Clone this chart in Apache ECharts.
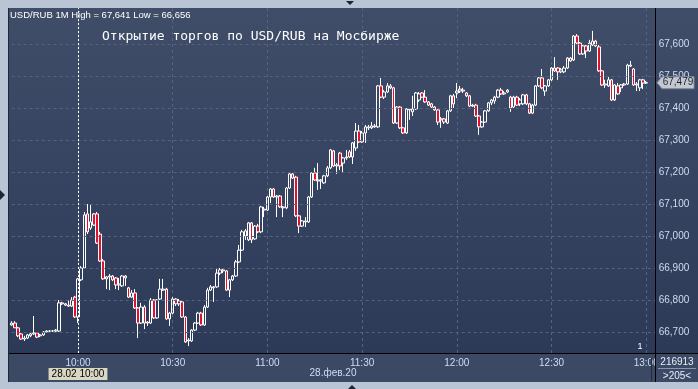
<!DOCTYPE html>
<html><head><meta charset="utf-8">
<script src="https://cdn.jsdelivr.net/npm/echarts@6/dist/echarts.min.js"></script>
<style>html,body{margin:0;padding:0;background:#b9c5d5}#c{width:698px;height:389px}</style>
</head><body><div id="c"></div>
<script>
const opens = [
66.722,66.728,66.713,66.694,66.678,66.681,66.688,66.694,66.697,66.688,
66.691,66.700,66.703,66.703,66.703,66.703,66.791,66.788,66.784,66.781,
66.809,66.747,66.863,66.900,67.069,67.025,67.069,67.069,67.006,66.922,
66.866,66.872,66.875,66.869,66.847,66.844,66.875,66.838,66.809,66.822,
66.775,66.728,66.778,66.728,66.728,66.800,66.744,66.803,66.834,66.834,
66.741,66.759,66.803,66.788,66.794,66.747,66.672,66.672,66.706,66.728,
66.759,66.722,66.778,66.831,66.838,66.841,66.884,66.894,66.891,66.831,
66.863,66.875,66.919,66.956,67.000,66.988,67.041,66.991,67.031,67.013,
67.084,67.081,67.122,67.147,67.122,67.125,67.091,67.088,67.150,67.194,
67.184,67.063,67.031,67.047,67.044,67.122,67.197,67.175,67.172,67.166,
67.188,67.213,67.266,67.219,67.259,67.228,67.244,67.263,67.247,67.275,
67.328,67.294,67.322,67.341,67.338,67.344,67.341,67.469,67.434,67.450,
67.469,67.463,67.353,67.403,67.338,67.322,67.397,67.388,67.397,67.425,
67.447,67.434,67.419,67.413,67.403,67.394,67.363,67.366,67.353,67.391,
67.438,67.447,67.459,67.453,67.447,67.438,67.406,67.409,67.375,67.341,
67.356,67.391,67.416,67.422,67.434,67.456,67.444,67.450,67.434,67.403,
67.434,67.413,67.413,67.441,67.413,67.384,67.409,67.469,67.494,67.453,
67.469,67.488,67.525,67.525,67.513,67.513,67.525,67.556,67.550,67.625,
67.603,67.569,67.594,67.578,67.597,67.609,67.591,67.516,67.472,67.469,
67.488,67.425,67.469,67.463,67.472,67.475,67.534,67.522,67.472,67.463,
67.488,67.478];
const closes = [
66.728,66.713,66.688,66.678,66.681,66.691,66.694,66.697,66.684,66.691,
66.700,66.703,66.703,66.703,66.706,66.791,66.788,66.784,66.781,66.800,
66.747,66.866,66.900,67.066,67.013,67.044,67.034,66.978,66.922,66.866,
66.872,66.875,66.863,66.847,66.850,66.875,66.869,66.809,66.822,66.775,
66.728,66.778,66.728,66.731,66.800,66.744,66.800,66.834,66.831,66.741,
66.759,66.803,66.788,66.797,66.747,66.669,66.675,66.706,66.728,66.759,
66.722,66.778,66.831,66.841,66.841,66.884,66.894,66.891,66.831,66.863,
66.875,66.919,66.956,67.013,67.016,67.041,66.988,67.031,67.013,67.091,
67.081,67.122,67.147,67.122,67.125,67.091,67.088,67.150,67.194,67.181,
67.063,67.031,67.047,67.044,67.122,67.197,67.175,67.172,67.175,67.188,
67.213,67.269,67.219,67.222,67.219,67.244,67.247,67.247,67.291,67.328,
67.294,67.322,67.341,67.338,67.344,67.341,67.469,67.434,67.450,67.469,
67.463,67.353,67.403,67.338,67.322,67.397,67.394,67.397,67.447,67.444,
67.434,67.419,67.409,67.403,67.394,67.356,67.366,67.356,67.391,67.438,
67.413,67.453,67.453,67.456,67.438,67.406,67.409,67.375,67.341,67.356,
67.391,67.416,67.425,67.434,67.456,67.444,67.447,67.456,67.400,67.434,
67.409,67.425,67.441,67.413,67.384,67.409,67.469,67.494,67.463,67.469,
67.488,67.525,67.516,67.513,67.519,67.525,67.556,67.547,67.625,67.603,
67.569,67.594,67.578,67.603,67.609,67.594,67.516,67.472,67.475,67.488,
67.425,67.472,67.444,67.472,67.475,67.534,67.531,67.472,67.475,67.488,
67.478,67.479];
const lows = [
66.719,66.713,66.684,66.675,66.672,66.678,66.684,66.691,66.681,66.684,
66.688,66.700,66.700,66.700,66.700,66.700,66.784,66.781,66.778,66.778,
66.744,66.728,66.859,66.897,67.006,67.019,67.031,66.975,66.919,66.863,
66.834,66.831,66.859,66.834,66.831,66.841,66.844,66.806,66.806,66.772,
66.681,66.725,66.709,66.719,66.725,66.741,66.741,66.800,66.828,66.738,
66.719,66.756,66.781,66.781,66.744,66.666,66.656,66.669,66.703,66.725,
66.719,66.719,66.775,66.828,66.794,66.838,66.878,66.884,66.828,66.809,
66.859,66.872,66.916,66.953,66.988,66.984,66.978,66.988,67.009,67.009,
67.059,67.078,67.103,67.119,67.059,67.088,67.059,67.084,67.147,67.178,
67.059,67.009,67.028,67.028,67.041,67.119,67.172,67.144,67.147,67.163,
67.184,67.209,67.216,67.194,67.206,67.200,67.238,67.244,67.225,67.266,
67.291,67.291,67.291,67.331,67.334,67.338,67.338,67.431,67.428,67.447,
67.459,67.350,67.350,67.334,67.319,67.319,67.363,67.375,67.394,67.419,
67.431,67.416,67.406,67.400,67.391,67.347,67.338,67.350,67.350,67.388,
67.400,67.431,67.447,67.447,67.434,67.403,67.403,67.372,67.316,67.338,
67.353,67.388,67.409,67.413,67.431,67.441,67.441,67.447,67.388,67.400,
67.406,67.406,67.409,67.409,67.381,67.381,67.406,67.466,67.459,67.438,
67.466,67.484,67.513,67.488,67.509,67.509,67.522,67.544,67.547,67.600,
67.566,67.566,67.556,67.575,67.594,67.591,67.513,67.469,67.463,67.466,
67.422,67.422,67.441,67.450,67.469,67.472,67.528,67.469,67.453,67.453,
67.459,67.475];
const highs = [
66.734,66.734,66.716,66.697,66.688,66.694,66.697,66.750,66.700,66.694,
66.703,66.706,66.706,66.706,66.709,66.800,66.794,66.791,66.800,66.809,
66.813,66.869,66.906,67.075,67.100,67.097,67.072,67.075,67.013,66.928,
66.875,66.881,66.878,66.872,66.869,66.878,66.878,66.841,66.831,66.834,
66.778,66.791,66.784,66.734,66.806,66.803,66.803,66.866,66.866,66.838,
66.763,66.809,66.806,66.803,66.797,66.750,66.681,66.709,66.731,66.763,
66.763,66.784,66.838,66.847,66.844,66.900,66.900,66.900,66.894,66.866,
66.878,66.925,66.972,67.019,67.022,67.044,67.044,67.034,67.038,67.094,
67.091,67.125,67.150,67.150,67.128,67.128,67.094,67.153,67.197,67.197,
67.188,67.066,67.050,67.059,67.125,67.200,67.213,67.228,67.178,67.191,
67.219,67.272,67.269,67.228,67.263,67.247,67.269,67.269,67.294,67.353,
67.347,67.328,67.347,67.347,67.356,67.350,67.472,67.494,67.456,67.478,
67.475,67.466,67.406,67.406,67.341,67.400,67.400,67.438,67.450,67.450,
67.450,67.456,67.422,67.416,67.406,67.397,67.372,67.369,67.394,67.441,
67.444,67.478,67.469,67.463,67.450,67.441,67.413,67.413,67.378,67.359,
67.394,67.419,67.428,67.438,67.459,67.463,67.453,67.459,67.438,67.438,
67.438,67.431,67.444,67.444,67.416,67.413,67.472,67.497,67.522,67.472,
67.491,67.528,67.559,67.528,67.525,67.531,67.559,67.559,67.628,67.631,
67.606,67.597,67.597,67.613,67.641,67.613,67.597,67.519,67.488,67.497,
67.491,67.475,67.478,67.475,67.478,67.538,67.547,67.525,67.481,67.491,
67.491,67.484];
const yTicks = [66.7, 66.8, 66.9, 67.0, 67.1, 67.2, 67.3, 67.4, 67.5, 67.6];
const startMinute = 9 * 60 + 39;   // first bar 09:39
const slotCount = 205;             // axis runs to 13:03
const crossTime = '10:00';
const lastPrice = 67.479;
const headerText = 'USD/RUB 1M High = 67,641 Low = 66,656';
const titleText = 'Открытие торгов по USD/RUB на Мосбирже';

const times = [];
for (let k = 0; k < slotCount; k++) {
  const m = startMinute + k;
  times.push(String(Math.floor(m / 60)).padStart(2, '0') + ':' + String(m % 60).padStart(2, '0'));
}
const candles = opens.map((o, i) => [o, closes[i], lows[i], highs[i]]);
const fmt = v => v.toFixed(3).replace('.', ',');
const isMajor = (idx, val) => /:(00|30)$/.test(val);

const chart = echarts.init(document.getElementById('c'), null, {renderer: 'canvas'});
const gridColor = '#56637e';
const labelColor = '#cfdcf1';
const FONT = 'Liberation Sans';

const option = {
  animation: false,
  backgroundColor: '#b9c5d5',
  grid: {left: 11.7, right: 42.3, top: 8, bottom: 36},
  xAxis: {
    type: 'category', data: times, boundaryGap: false,
    axisLine: {show: false}, axisTick: {show: false},
    axisLabel: {interval: isMajor, color: labelColor, fontSize: 10, fontFamily: FONT, margin: 5},
    splitLine: {show: true, interval: isMajor, lineStyle: {color: gridColor, type: [3, 3], width: 1}}
  },
  yAxis: {
    type: 'value', position: 'right', min: 66.634375, max: 67.7125, scale: true,
    axisLine: {show: false}, axisTick: {show: false}, axisLabel: {show: false}, splitLine: {show: false}
  },
  graphic: [
    {id: 'bg', type: 'rect', z: -20, shape: {x: 9, y: 8, width: 689, height: 345},
     style: {fill: new echarts.graphic.LinearGradient(0, 0, 0, 1, [{offset: 0, color: '#404d69'}, {offset: 1, color: '#2c3a58'}])}},
    {id: 'band', type: 'rect', z: -20, shape: {x: 9, y: 353, width: 689, height: 29}, style: {fill: '#3c4965'}},
    {id: 'corner', type: 'rect', z: 50, shape: {x: 656, y: 354, width: 42, height: 28}, style: {fill: '#3c4965'}},
    {id: 'hl', type: 'line', z: 51, shape: {x1: 9, y1: 353.5, x2: 698, y2: 353.5}, style: {stroke: '#000', lineWidth: 1}},
    {id: 'vl', type: 'line', z: 51, shape: {x1: 655.5, y1: 8, x2: 655.5, y2: 382}, style: {stroke: '#000', lineWidth: 1}},
    {id: 'll', type: 'line', z: 51, shape: {x1: 8.5, y1: 8, x2: 8.5, y2: 382}, style: {stroke: '#1e2638', lineWidth: 1}},
    {id: 'tick13', type: 'line', z: 51, shape: {x1: 651.5, y1: 358, x2: 651.5, y2: 381}, style: {stroke: '#222a3c', lineWidth: 1}},
    {id: 'cl', type: 'line', z: 51, shape: {x1: 658, y1: 368.5, x2: 696, y2: 368.5}, style: {stroke: '#8796ae', lineWidth: 1}},
    {id: 't1', type: 'text', z: 52, style: {x: 677, y: 362, text: '216913', fill: '#e6eef8', font: '10px ' + FONT, textAlign: 'center', textVerticalAlign: 'middle'}},
    {id: 't2', type: 'text', z: 52, style: {x: 677, y: 376, text: '>205<', fill: '#e6eef8', font: '10px ' + FONT, textAlign: 'center', textVerticalAlign: 'middle'}},
    {id: 't3', type: 'text', z: 52, style: {x: 333, y: 373, text: '28.фев.20', fill: labelColor, font: '10px ' + FONT, textAlign: 'center', textVerticalAlign: 'middle'}},
    {id: 't4', type: 'text', z: 52, style: {x: 10, y: 15, text: headerText, fill: '#ffffff', font: '9.5px ' + FONT, textVerticalAlign: 'middle'}},
    {id: 't5', type: 'text', z: 52, style: {x: 102, y: 37, text: titleText, fill: '#ffffff', font: '13px "DejaVu Sans Mono"', textVerticalAlign: 'middle'}},
    {id: 't6', type: 'text', z: 52, style: {x: 640, y: 347, text: '1', fill: '#ffffff', font: '9px ' + FONT, textAlign: 'center', textVerticalAlign: 'middle'}},
    {id: 'p1', type: 'polygon', z: 52, shape: {points: [[346, 1], [354, 1], [350, 5]]}, style: {fill: '#1c2334'}},
    {id: 'p2', type: 'polygon', z: 52, shape: {points: [[0, 190], [0, 200], [5, 195]]}, style: {fill: '#1c2334'}},
    {id: 'p3', type: 'polygon', z: 52, shape: {points: [[348, 389], [356, 389], [352, 385]]}, style: {fill: '#1c2334'}}
  ],
  series: [{
    type: 'candlestick', data: candles, clip: false, barWidth: 3,
    itemStyle: {color: 'rgba(0,0,0,0)', color0: '#e3102c', borderColor: '#ffffff', borderColor0: '#ffffff', borderWidth: 1},
    markLine: {
      silent: true, symbol: ['none', 'none'], animation: false,
      data: [
        ...yTicks.map(v => ({yAxis: v, lineStyle: {color: gridColor, type: [3, 3], width: 1},
          label: {show: true, position: 'end', distance: 3, formatter: fmt(v), color: labelColor, fontSize: 10, fontFamily: FONT}})),
        {xAxis: crossTime, lineStyle: {color: '#ffffff', type: [2, 2], width: 1},
          label: {show: true, position: 'start', distance: 15, formatter: '28.02 10:00', color: '#000', fontSize: 10, fontFamily: FONT,
            backgroundColor: '#d9d7c2', padding: [1, 3]}}
      ]
    }
  }]
};
chart.setOption(option);

const py = chart.convertToPixel({yAxisIndex: 0}, lastPrice);
chart.setOption({graphic: [
  {id: 'pricebox', type: 'polygon', z: 60, shape: {points: [[657, py], [662, py - 6], [694, py - 6], [694, py + 6], [662, py + 6]]},
   style: {fill: '#c4c8ce', stroke: '#7d8796', lineWidth: 1}},
  {id: 'pricetext', type: 'text', z: 61, style: {x: 678, y: py, text: fmt(lastPrice), fill: '#1a2438', font: '10px ' + FONT, textAlign: 'center', textVerticalAlign: 'middle'}}
]});
</script>
</body></html>
